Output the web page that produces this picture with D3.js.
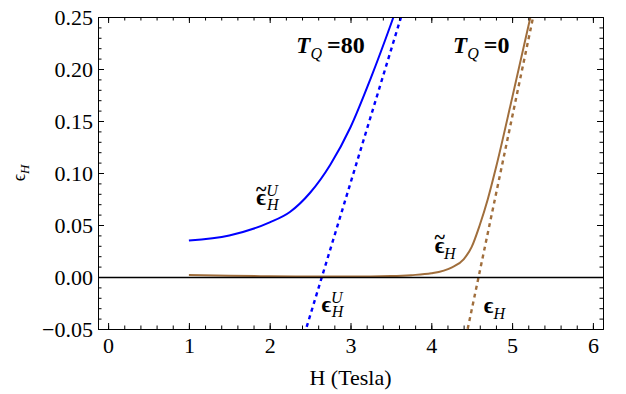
<!DOCTYPE html>
<html>
<head>
  <meta charset="utf-8">
  <title>epsilon H vs field</title>
  <style type="text/css">
    body { margin: 0; background-color: #fff; }
    svg { display: block; background-color: white; }
  </style>
  <script src="https://d3js.org/d3.v7.min.js"></script>
</head>
<body>
<script>
// values
var hTicks = [0, 1, 2, 3, 4, 5, 6];
var epsTicks = [-0.05, 0, 0.05, 0.10, 0.15, 0.20, 0.25];

// T_Q = 80, tilde eps^U_H (solid blue)
var hBlue = [1, 1.5, 2, 2.25, 2.5, 2.75, 3, 3.25, 3.5, 3.6];
var epsBlue = [0.035, 0.040, 0.0525, 0.0625, 0.081, 0.108, 0.144, 0.191, 0.243, 0.265];
// eps^U_H (dashed blue)
var hBlueDash = [2.4, 3.7];
var epsBlueDash = [-0.0627, 0.269];

// T_Q = 0, tilde eps_H (solid brown)
var hBrown = [1, 1.5, 2, 2.5, 3, 3.5, 3.75, 4, 4.25, 4.4, 4.5, 4.6, 4.7, 4.8, 5, 5.3];
var epsBrown = [0.002, 0.0012, 0.0007, 0.0005, 0.0005, 0.001, 0.0018, 0.0035, 0.009, 0.017, 0.029, 0.05, 0.075, 0.105, 0.172, 0.275];
// eps_H (dashed brown)
var hBrownDash = [4.43, 5.3];
var epsBrownDash = [-0.0574, 0.2646];

var width = 626, height = 394;
var margin = {top: 17, right: 23, bottom: 65, left: 98};
var serif = "'Liberation Serif', 'Times New Roman', Tinos, serif";

var svg = d3.select("body").append("svg")
  .attr("width", width)
  .attr("height", height);

var x = d3.scaleLinear().domain([-0.125, 6.125]).range([margin.left, width - margin.right]);
var y = d3.scaleLinear().domain([-0.05, 0.25]).range([height - margin.bottom, margin.top]);

var blue = "#0000ff";
var brown = "#a06e3c";

svg.append("clipPath").attr("id", "plotclip")
  .append("rect")
  .attr("x", x.range()[0]).attr("y", y.range()[1])
  .attr("width", x.range()[1] - x.range()[0])
  .attr("height", y.range()[0] - y.range()[1]);

var line = d3.line()
  .x(function(d) { return x(d[0]); })
  .y(function(d) { return y(d[1]); });

var plot = svg.append("g").attr("clip-path", "url(#plotclip)");

function pairs(hs, es) { return hs.map(function(h, i) { return [h, es[i]]; }); }

plot.append("path").datum(pairs(hBrown, epsBrown))
  .attr("d", line.curve(d3.curveMonotoneX))
  .attr("fill", "none").attr("stroke", brown).attr("stroke-width", 2);

// zero axis line
svg.append("line")
  .attr("x1", x.range()[0]).attr("x2", x.range()[1])
  .attr("y1", Math.round(y(0)) + 0.5).attr("y2", Math.round(y(0)) + 0.5)
  .attr("stroke", "#000").attr("stroke-width", 1.3);

plot.append("path").datum(pairs(hBrownDash, epsBrownDash))
  .attr("d", line.curve(d3.curveLinear))
  .attr("fill", "none").attr("stroke", brown).attr("stroke-width", 2.4)
  .attr("stroke-dasharray", "4,4");

plot.append("path").datum(pairs(hBlue, epsBlue))
  .attr("d", line.curve(d3.curveMonotoneX))
  .attr("fill", "none").attr("stroke", blue).attr("stroke-width", 2);

plot.append("path").datum(pairs(hBlueDash, epsBlueDash))
  .attr("d", line.curve(d3.curveLinear))
  .attr("fill", "none").attr("stroke", blue).attr("stroke-width", 2.4)
  .attr("stroke-dasharray", "4,4");

// frame with inward ticks on all four sides
var hMinor = d3.range(0, 6.01, 0.2);
var epsMinor = d3.range(-0.05, 0.2501, 0.01);

function frameAxis(axis, scale, major, minor, pos, labels) {
  var g = svg.append("g").attr("transform", pos);
  g.call(axis(scale).tickValues(minor).tickSize(-3.5).tickFormat(""));
  g.selectAll(".domain").remove();
  var gm = svg.append("g").attr("transform", pos);
  gm.call(axis(scale).tickValues(major).tickSize(-6).tickPadding(9)
    .tickFormat(labels ? labels : ""));
  gm.select(".domain").attr("stroke", "#000").attr("stroke-width", 1);
  gm.selectAll("text").style("font-family", serif).style("font-size", "22px");
  return gm;
}

var fmtX = d3.format("d");
var fmtY = function(d) { return d3.format(".2f")(d).replace("-", "\u2212"); };

var gb = frameAxis(d3.axisBottom, x, hTicks, hMinor, "translate(0," + y.range()[0] + ")", fmtX);
gb.selectAll("text").attr("dy", "0.71em").attr("y", 8);
frameAxis(d3.axisTop, x, hTicks, hMinor, "translate(0," + y.range()[1] + ")", null);
var gl = frameAxis(d3.axisLeft, y, epsTicks, epsMinor, "translate(" + x.range()[0] + ",0)", fmtY);
gl.selectAll("text").attr("x", -5);
frameAxis(d3.axisRight, y, epsTicks, epsMinor, "translate(" + x.range()[1] + ",0)", null);

svg.selectAll(".tick line").attr("stroke", "#000");

function txt(xp, yp, size) {
  return svg.append("text").attr("x", xp).attr("y", yp)
    .style("font-family", serif).style("font-size", size + "px").attr("fill", "#000");
}

// axis titles
txt((x.range()[0] + x.range()[1]) / 2, 385, 22)
  .attr("text-anchor", "middle")
  .text("H (Tesla)");

var yl = txt(0, 0, 18)
  .attr("transform", "translate(25," + ((y.range()[0] + y.range()[1]) / 2) + ") rotate(-90)")
  .attr("text-anchor", "middle");
yl.append("tspan").text("\u03f5");
yl.append("tspan").style("font-size", "13px").style("font-style", "italic").attr("dy", 4).text("H");

// T_Q annotations
function tq(xp, yp, val) {
  var t = txt(xp, yp, 23).style("font-weight", "bold");
  t.append("tspan").style("font-style", "italic").text("T");
  t.append("tspan").style("font-style", "italic").style("font-size", "16px").style("font-weight", "normal")
    .attr("dy", 6).text("Q");
  t.append("tspan").attr("dy", -6).attr("dx", 5).style("font-size", "24px").text("=" + val);
}
tq(x(2.33), 53, "80");
tq(x(4.27), 53, "0");

// epsilon labels; the tilde is a raised tspan drawn back over the epsilon
function epsLabel(xp, yp, tilde, sup) {
  var t = txt(xp, yp, 23).style("font-weight", "bold");
  t.append("tspan").text("\u03f5");
  var lift = 0;
  if (tilde) {
    lift = 9;
    t.append("tspan").style("font-size", "20px").attr("dx", -10).attr("dy", -lift).text("~");
  }
  var sub = function(s) {
    return t.append("tspan").style("font-size", "16px").style("font-style", "italic")
      .style("font-weight", "normal").text(s);
  };
  if (sup) {
    sub(sup).attr("dx", 0).attr("dy", lift - 9);
    sub("H").attr("dx", -11).attr("dy", 14);
  } else {
    sub("H").attr("dx", tilde ? -1 : 0).attr("dy", lift + 6);
  }
}
epsLabel(x(1.83), 205, true, "U");
epsLabel(x(4.04), 253, true, null);
epsLabel(x(2.64), 312, false, "U");
epsLabel(x(4.65), 313, false, null);
</script>
</body>
</html>
